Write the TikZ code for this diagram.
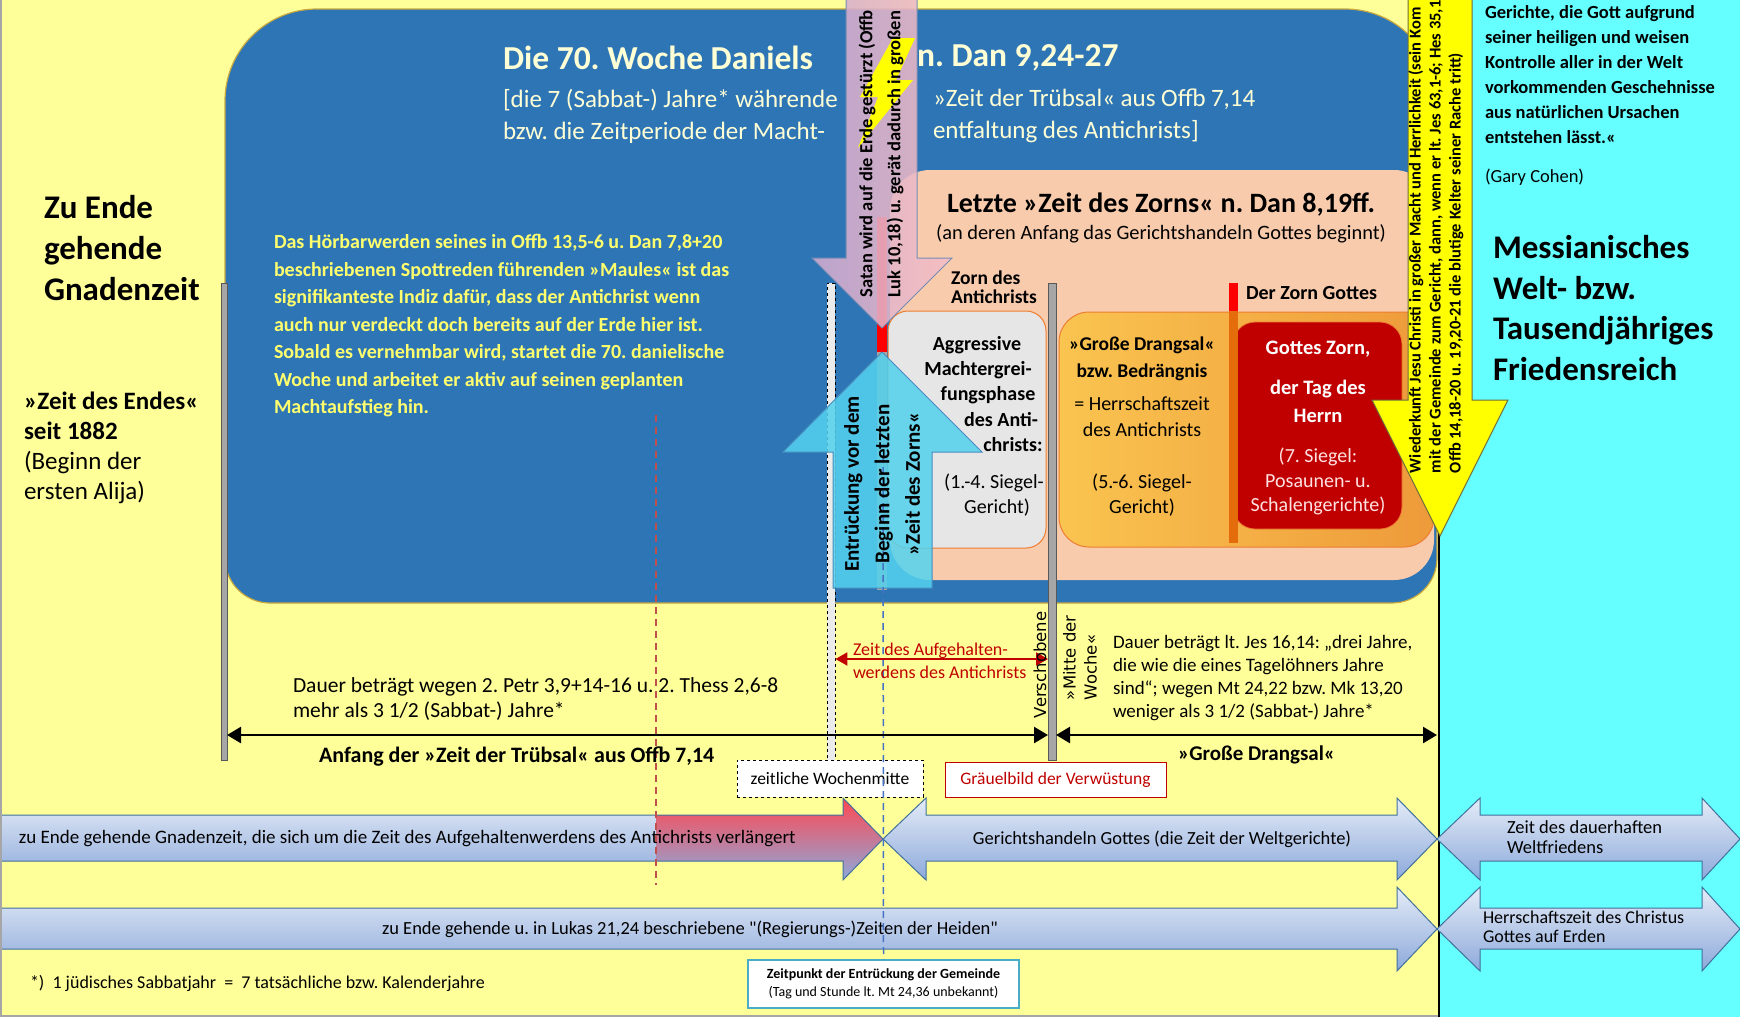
\documentclass[tikz,border=0pt]{standalone}
\usepackage{fontspec}
\setmainfont{Carlito}[Ligatures=TeXOff]
\newfontfamily\vsans{DejaVu Sans}
\usetikzlibrary{arrows.meta}

\newcommand\fsz[2]{\fontsize{#1pt}{#2pt}\selectfont}
\frenchspacing

\definecolor{bgyellow}{RGB}{255,255,153}
\definecolor{bgcyan}{RGB}{102,255,255}
\definecolor{weekblue}{RGB}{46,117,182}
\definecolor{goldrim}{RGB}{201,168,64}
\definecolor{titlecream}{RGB}{255,255,214}
\definecolor{textyellow}{RGB}{255,255,110}
\definecolor{peach}{RGB}{248,203,173}
\definecolor{phasegray}{RGB}{231,230,230}
\definecolor{rimorange}{RGB}{237,125,49}
\definecolor{drangA}{RGB}{250,196,80}
\definecolor{drangB}{RGB}{238,154,58}
\definecolor{wrathred}{RGB}{192,0,0}
\definecolor{wrathtext}{RGB}{255,225,225}
\definecolor{markorange}{RGB}{228,108,10}
\definecolor{barfill}{RGB}{166,166,166}
\definecolor{barrim}{RGB}{89,89,89}
\definecolor{satanL}{RGB}{206,170,208}
\definecolor{satanR}{RGB}{246,190,196}
\definecolor{satanrim}{RGB}{120,140,180}
\definecolor{raptfill}{RGB}{84,210,238}
\definecolor{raptrim}{RGB}{70,140,190}
\definecolor{boltyellow}{RGB}{255,255,0}
\definecolor{returnrim}{RGB}{110,110,60}
\definecolor{bandtop}{RGB}{228,236,247}
\definecolor{bandbot}{RGB}{141,169,219}
\definecolor{bandrim}{RGB}{65,113,156}
\definecolor{bandred}{RGB}{255,72,82}
\definecolor{darkred}{RGB}{192,0,0}
\definecolor{dashred}{RGB}{192,80,77}
\definecolor{dashblue}{RGB}{68,114,196}
\definecolor{raptteal}{RGB}{75,172,198}

\tikzset{
  txt/.style={inner sep=0pt, outer sep=0pt},
  graybar/.style={fill=barfill, draw=barrim, line width=0.8pt, inner sep=0pt, outer sep=0pt},
  dimarrow/.style={line width=2.5pt, {Triangle[length=14pt,width=16pt]}-{Triangle[length=14pt,width=16pt]}},
  holdarrow/.style={darkred, line width=2pt, {Triangle[length=12pt,width=13pt]}-{Triangle[length=12pt,width=13pt]}},
  band/.style={top color=bandtop, bottom color=bandbot},
  bandline/.style={draw=bandrim, line width=1pt},
  labelbox/.style={fill=white, inner sep=0pt, line width=1pt},
}

\begin{document}
\begin{tikzpicture}[x=1pt,y=-1pt]
\useasboundingbox (0,0) rectangle (1740,1017);
\clip (0,0) rectangle (1740,1017);

% ---------- ground ----------
\fill[bgyellow] (0,0) rectangle (1439,1017);
\fill[bgcyan] (1439,0) rectangle (1740,1017);
\draw[gray!70, line width=1.2pt] (1,0) -- (1,1016) -- (1439,1016);
\draw[black, line width=1.6pt] (1439,0) -- (1439,1017);

% ---------- the 70th week ----------
\draw[fill=weekblue, draw=goldrim, line width=1.2pt]
  (225,400) [rounded corners=92pt] -- (225,9) -- (1437,9)
  [rounded corners=45pt] -- (1437,603) -- (225,603)
  [rounded corners=92pt] -- cycle;

\node[txt, anchor=west, text=titlecream, font=\fsz{33.5}{40}\bfseries] (title1) at (503,58) {Die 70. Woche Daniels};
\node[txt, anchor=west, text=titlecream, font=\fsz{33.5}{40}\bfseries] (title2) at (917,58) {n. Dan 9,24-27};
\node[txt, anchor=west, align=left, text=titlecream, font=\fsz{25}{32}] (sub1) at (503,116)
  {[die 7 (Sabbat-) Jahre* währende\\bzw. die Zeitperiode der Macht-};
\node[txt, anchor=west, align=left, text=titlecream, font=\fsz{25}{32}] (sub2) at (933,116)
  {»Zeit der Trübsal« aus Offb 7,14\\entfaltung des Antichrists]};

\node[txt, anchor=west, align=left, text=textyellow, font=\fsz{20}{27.5}\bfseries] (para) at (274,326)
  {Das Hörbarwerden seines in Offb 13,5-6 u. Dan 7,8+20\\
   beschriebenen Spottreden führenden »Maules« ist das\\
   signifikanteste Indiz dafür, dass der Antichrist wenn\\
   auch nur verdeckt doch bereits auf der Erde hier ist.\\
   Sobald es vernehmbar wird, startet die 70. danielische\\
   Woche und arbeitet er aktiv auf seinen geplanten\\
   Machtaufstieg hin.};

% ---------- time of wrath ----------
\fill[peach, rounded corners=40pt] (890,170) rectangle (1434,580);
\node[txt, font=\fsz{28}{32}\bfseries] (wrathtitle) at (1161,205) {Letzte »Zeit des Zorns« n. Dan 8,19ff.};
\node[txt, font=\fsz{20.4}{24}] (wrathsub) at (1161,234) {(an deren Anfang das Gerichtshandeln Gottes beginnt)};
\node[txt, anchor=west, align=left, font=\fsz{19.5}{19.5}\bfseries] (acwrath) at (951,287) {Zorn des\\Antichrists};
\node[txt, anchor=west, font=\fsz{20}{24}\bfseries] (godwrath) at (1246,293) {Der Zorn Gottes};

\node[graybar, minimum width=8pt, minimum height=477pt] (mittebar) at (1052,521.5) {};

\draw[fill=phasegray, draw=rimorange, line width=1pt, rounded corners=20pt] (888,311) rectangle (1046,548);
\draw[left color=drangA, right color=drangB, draw=rimorange, line width=1pt, rounded corners=30pt] (1059,312) rectangle (1434,547);
\draw[fill=wrathred, draw=rimorange, line width=0.8pt, rounded corners=22pt] (1233,322) rectangle (1402,529);
\fill[markorange] (1229,311) rectangle (1238,543);
\fill[red] (1229,283) rectangle (1238,311);

\begin{scope}[every node/.style={txt, font=\fsz{20}{24}}]
  \node[font=\fsz{20}{24}\bfseries] (ag1) at (977,345) {Aggressive};
  \node[font=\fsz{20}{24}\bfseries] (ag2) at (978,370) {Machtergrei-};
  \node[font=\fsz{20}{24}\bfseries] (ag3) at (988,395) {fungsphase};
  \node[font=\fsz{20}{24}\bfseries] (ag4) at (1001,420) {des Anti-};
  \node[font=\fsz{20}{24}\bfseries] (ag5) at (1013,445) {christs:};
  \node (ag6) at (994,483) {(1.-4. Siegel-};
  \node (ag7) at (997,508) {Gericht)};

  \node[font=\fsz{19.5}{24}\bfseries] (gd1) at (1142,345) {»Große Drangsal«};
  \node[font=\fsz{19.5}{24}\bfseries] (gd2) at (1142,372) {bzw. Bedrängnis};
  \node (gd3) at (1142,404) {= Herrschaftszeit};
  \node (gd4) at (1142,430) {des Antichrists};
  \node (gd5) at (1142,483) {(5.-6. Siegel-};
  \node (gd6) at (1142,508) {Gericht)};

  \node[text=white, font=\fsz{20.5}{24}\bfseries] (gz1) at (1318,349) {Gottes Zorn,};
  \node[text=white, font=\fsz{20.5}{24}\bfseries] (gz2) at (1318,389) {der Tag des};
  \node[text=white, font=\fsz{20.5}{24}\bfseries] (gz3) at (1318,416) {Herrn};
  \node[text=wrathtext] (gz4) at (1318,457) {(7. Siegel:};
  \node[text=wrathtext] (gz5) at (1318,481) {Posaunen- u.};
  \node[text=wrathtext] (gz6) at (1318,506) {Schalengerichte)};
\end{scope}

% ---------- left column ----------
\node[txt, anchor=west, align=left, font=\fsz{33}{41}\bfseries] (gnade) at (44,248) {Zu Ende\\gehende\\Gnadenzeit};
\node[txt, anchor=west, align=left, font=\fsz{25}{30}] (endzeit) at (24,448)
  {\bfseries »Zeit des Endes«\\\bfseries seit 1882\\(Beginn der\\ersten Alija)};

% ---------- time bars ----------
\node[graybar, minimum width=6pt, minimum height=477pt] (leftbar) at (224,521.5) {};
\node[fill=black!8, draw=black, dashed, line width=0.8pt, inner sep=0pt, minimum width=8pt, minimum height=478pt] (wbar) at (831,522) {};
\fill[red] (877,217) rectangle (887,352);
\fill[barfill] (877,352) rectangle (887,590);

% Satan cast down
\draw[left color=satanL, right color=satanR, draw=satanrim, line width=1pt, fill opacity=0.88]
  (846,-5) -- (917,-5) -- (917,258) -- (952,258) -- (882,328) -- (812,258) -- (846,258) -- cycle;
\fill[boltyellow] (893,38) -- (915,38) -- (896,80) -- (913,80) -- (858,148) -- (878,97) -- (860,97) -- cycle;
\node[txt, rotate=90, anchor=west, align=left, font=\fsz{18.5}{28}\bfseries] (satantxt) at (881,297)
  {Satan wird auf die Erde gestürzt (Offb\\Luk 10,18) u. gerät dadurch in großen};

% rapture arrow
\draw[fill=raptfill, fill opacity=0.86, draw=raptrim, line width=1pt]
  (833,588) -- (833,452) -- (783,452) -- (882,352) -- (982,452) -- (932,452) -- (932,588) -- cycle;

% ---------- lower bands ----------
\shade[band] (2,815) -- (843,815) -- (843,798) -- (883,839) -- (843,880) -- (843,861) -- (2,861) -- cycle;
\begin{scope}
  \clip (656,780) rectangle (900,900);
  \shade[top color=bandred, bottom color=bandbot] (2,815) -- (843,815) -- (843,798) -- (883,839) -- (843,880) -- (843,861) -- (2,861) -- cycle;
\end{scope}
\draw[bandline] (2,815) -- (843,815) -- (843,798) -- (883,839) -- (843,880) -- (843,861) -- (2,861);
\draw[band, bandline] (883,839) -- (926,798) -- (926,815) -- (1397,815) -- (1397,798) -- (1437,839)
  -- (1397,880) -- (1397,861) -- (926,861) -- (926,880) -- cycle;
\draw[band, bandline] (1437,839) -- (1480,798) -- (1480,815) -- (1702,815) -- (1702,798) -- (1740,839)
  -- (1702,880) -- (1702,861) -- (1480,861) -- (1480,880) -- cycle;
\draw[band, bandline] (2,908) -- (1397,908) -- (1397,887) -- (1437,929) -- (1397,971) -- (1397,949) -- (2,949);
\draw[band, bandline] (1437,929) -- (1480,887) -- (1480,908) -- (1702,908) -- (1702,887) -- (1740,929)
  -- (1702,971) -- (1702,949) -- (1480,949) -- (1480,971) -- cycle;

\node[txt, anchor=west, font=\fsz{19}{23}] (bandA) at (19,839)
  {zu Ende gehende Gnadenzeit, die sich um die Zeit des Aufgehaltenwerdens des Antichrists verlängert};
\node[txt, font=\fsz{18.5}{23}] (bandB) at (1162,839) {Gerichtshandeln Gottes (die Zeit der Weltgerichte)};
\node[txt, anchor=west, align=left, font=\fsz{18.5}{19.5}] (bandC) at (1507,837) {Zeit des dauerhaften\\Weltfriedens};
\node[txt, font=\fsz{18.5}{23}] (bandD) at (690,929)
  {zu Ende gehende u. in Lukas 21,24 beschriebene "(Regierungs-)Zeiten der Heiden"};
\node[txt, anchor=west, align=left, font=\fsz{18}{19}] (bandE) at (1483,927) {Herrschaftszeit des Christus\\Gottes auf Erden};

\node[txt, anchor=west, font=\fsz{18}{22}] (footnote) at (30,983)
  {*)\ \ 1 jüdisches Sabbatjahr\ \ =\ \ 7 tatsächliche bzw. Kalenderjahre};

% ---------- marker boxes ----------
\node[labelbox, draw=black, dashed, minimum width=186pt, minimum height=37pt, font=\fsz{17.5}{20}] (wochenmitte) at (830,778.5) {zeitliche Wochenmitte};
\node[labelbox, draw=darkred, text=darkred, minimum width=221pt, minimum height=35pt, font=\fsz{17.5}{20}] (greuel) at (1055.5,779.5) {Gräuelbild der Verwüstung};
\node[labelbox, draw=raptteal, line width=1.5pt, minimum width=271pt, minimum height=48pt, align=center, font=\fsz{14}{18}] (zeitpunkt) at (883.5,984)
  {\bfseries Zeitpunkt der Entrückung der Gemeinde\\(Tag und Stunde lt. Mt 24,36 unbekannt)};

% ---------- dashed time lines ----------
\coordinate (redtop) at (656,415);
\coordinate (redbot) at (656,885);
\draw[dashred, line width=1.5pt, dash pattern=on 7pt off 5pt] (redtop) -- (redbot);
\coordinate (raptline) at (883,455);
\draw[dashblue, line width=1.5pt, dash pattern=on 7pt off 5pt] (raptline) -- (zeitpunkt.north);

\node[txt, rotate=90, align=center, font=\fsz{21}{30.5}\bfseries] (rapttxt) at (882,484)
  {Entrückung vor dem\\Beginn der letzten\\»Zeit des Zorns«};

% ---------- duration arrows ----------
\coordinate (dimrow) at (0,735);
\coordinate (cyanedge) at (1437,735);
\coordinate (holdrow) at (0,659);
\draw[dimarrow] (leftbar.east |- dimrow) -- (mittebar.west |- dimrow);
\draw[dimarrow] (mittebar.east |- dimrow) -- (cyanedge);
\draw[holdarrow] (wbar.east |- holdrow) -- (mittebar.west |- holdrow);

\node[txt, anchor=west, align=left, font=\fsz{21.5}{24.5}] (dauerL) at (293,699)
  {Dauer beträgt wegen 2. Petr 3,9+14-16 u. 2. Thess 2,6-8\\mehr als 3 1/2 (Sabbat-) Jahre*};
\node[txt, anchor=west, font=\fsz{22}{26}\bfseries] (anfang) at (319,757) {Anfang der »Zeit der Trübsal« aus Offb 7,14};
\node[txt, anchor=west, align=left, font=\fsz{19}{23.3}] (dauerR) at (1113,678)
  {Dauer beträgt lt. Jes 16,14: „drei Jahre,\\die wie die eines Tagelöhners Jahre\\sind“; wegen Mt 24,22 bzw. Mk 13,20\\weniger als 3 1/2 (Sabbat-) Jahre*};
\node[txt, anchor=west, font=\fsz{21}{25}\bfseries] (grossdr) at (1178,755) {»Große Drangsal«};
\node[txt, anchor=west, align=left, text=darkred, font=\fsz{18}{23}] (aufgeh) at (853,661)
  {Zeit des Aufgehalten-\\werdens des Antichrists};
\node[txt, rotate=90, anchor=west, font=\vsans\fsz{16.5}{20}] (versch) at (1040,718) {Verschobene};
\node[txt, rotate=90, anchor=west, align=left, font=\vsans\fsz{16.5}{21}] (mitte) at (1080,700) {»Mitte der\\Woche«};

% ---------- return of Christ ----------
\draw[fill=boltyellow, draw=returnrim, line width=1pt]
  (1408,-5) -- (1472,-5) -- (1472,400) -- (1508,400) -- (1440,536) -- (1372,400) -- (1408,400) -- cycle;
\node[txt, rotate=90, anchor=west, align=left, font=\fsz{16.5}{20}\bfseries] (returntxt) at (1436,473)
  {Wiederkunft Jesu Christi in großer Macht und Herrlichkeit (sein Kom\\mit der Gemeinde zum Gericht, dann, wenn er lt. Jes 63,1-6; Hes 35,1\\Offb 14,18-20 u. 19,20-21 die blutige Kelter seiner Rache tritt)};

% ---------- kingdom column ----------
\node[txt, anchor=west, align=left, font=\fsz{18.5}{25}\bfseries] (cohen) at (1485,75)
  {Gerichte, die Gott aufgrund\\seiner heiligen und weisen\\Kontrolle aller in der Welt\\vorkommenden Geschehnisse\\aus natürlichen Ursachen\\entstehen lässt.«};
\node[txt, anchor=west, font=\fsz{18.5}{25}] (cohenname) at (1485,177) {(Gary Cohen)};
\node[txt, anchor=west, align=left, font=\fsz{33}{40.5}\bfseries] (reich) at (1493,308)
  {Messianisches\\Welt- bzw.\\Tausendjähriges\\Friedensreich};

\end{tikzpicture}
\end{document}
